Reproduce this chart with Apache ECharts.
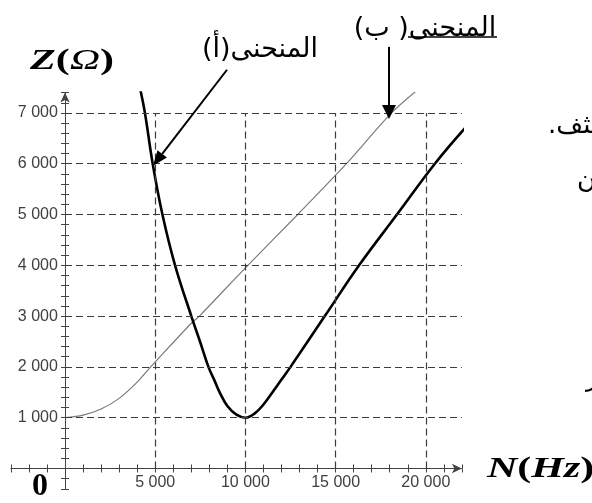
<!DOCTYPE html>
<html><head><meta charset="utf-8">
<script src="https://cdn.jsdelivr.net/npm/echarts@6/dist/echarts.min.js"></script>
<style>html,body{margin:0;padding:0;background:#fff}#c{width:592px;height:503px}</style>
</head><body><div id="c"></div>
<script>
// ---- data ----
const curveA_N = [4160, 4430, 4860, 5400, 6100, 7000, 7500, 7950, 8300, 8600, 9000, 9500, 10000, 10500, 11000, 11500, 12000, 12500, 14400, 16300, 18400, 20500, 22170];
const curveA_Z = [7480, 7000, 6000, 5000, 4000, 3000, 2480, 2000, 1720, 1480, 1230, 1060, 1000, 1080, 1260, 1500, 1750, 2000, 3000, 4000, 5000, 6000, 6700];
const curveB_N = [0, 1000, 2000, 3000, 4000, 4750, 6000, 7000, 7450, 10000, 12900, 15600, 18100, 19700];
const curveB_Z = [1000, 1050, 1170, 1380, 1700, 2000, 2480, 2860, 3000, 3950, 5000, 6000, 7000, 7500];
const xLabelTicks = [5000, 10000, 15000, 20000];
const yLabelTicks = [1000, 2000, 3000, 4000, 5000, 6000, 7000];
const labelA = '\u200Fالمنحنى(أ)\u200F';
const labelB = '\u200Fالمنحنى( ب)\u200F';
const arrowA = {from: [8980, 7850], to: [4880, 5960]};
const arrowB = {from: [17960, 8300], to: [17960, 6880]};

const fmt = v => { const s = String(v); return s.length > 3 ? s.slice(0, -3) + ' ' + s.slice(-3) : s; };
const zip = (a, b) => a.map((v, i) => [v, b[i]]);

const chart = echarts.init(document.getElementById('c'), null, {renderer: 'canvas'});
const axisCol = '#444';
const tickStyle = {length: 4, lineStyle: {color: axisCol, width: 1}};
const xCommon = {type: 'value', min: -3000, max: 22000, interval: 1000, splitLine: {show: false}};
const yCommon = {type: 'value', min: -400, max: 7400, interval: 200, splitLine: {show: false}};

const gridLines = yLabelTicks.map(z => [{coord: [0, z]}, {coord: [22000, z]}])
  .concat(xLabelTicks.map(n => [{coord: [n, 0]}, {coord: [n, 7000]}]));

const option = {
  animation: false,
  backgroundColor: '#fff',
  grid: {left: 10.9, right: 130.1, top: 92.6, bottom: 14.2, containLabel: false, outerBoundsMode: 'none'},
  xAxis: [
    Object.assign({}, xCommon, {
      position: 'bottom',
      axisLine: {show: true, onZero: true, onZeroAxisIndex: 0, symbol: ['none', 'arrow'], symbolSize: [7, 10], lineStyle: {color: axisCol, width: 1}},
      axisTick: tickStyle,
      axisLabel: {margin: -14, color: '#404040', fontFamily: 'Liberation Sans', fontSize: 16,
        formatter: v => xLabelTicks.includes(v) ? fmt(v) : ''}
    }),
    Object.assign({}, xCommon, {
      position: 'top',
      axisLine: {show: false, onZero: true, onZeroAxisIndex: 0},
      axisTick: tickStyle, axisLabel: {show: false}
    })
  ],
  yAxis: [
    Object.assign({}, yCommon, {
      position: 'left',
      axisLine: {show: true, onZero: true, onZeroAxisIndex: 0, symbol: ['none', 'arrow'], symbolSize: [7, 10], lineStyle: {color: axisCol, width: 1}},
      axisTick: tickStyle,
      axisLabel: {margin: -47, color: '#404040', fontFamily: 'Liberation Sans', fontSize: 16,
        formatter: v => yLabelTicks.includes(v) ? fmt(v) : ''}
    }),
    Object.assign({}, yCommon, {
      position: 'right',
      axisLine: {show: false, onZero: true, onZeroAxisIndex: 0},
      axisTick: tickStyle, axisLabel: {show: false}
    })
  ],
  series: [
    {
      type: 'line', data: [[0, 0]], showSymbol: false, lineStyle: {opacity: 0}, silent: true, z: 1,
      markLine: {silent: true, symbol: 'none', label: {show: false}, animation: false,
        lineStyle: {color: '#3c3c3c', width: 1.2, type: [7, 4]}, data: gridLines}
    },
    {type: 'line', data: zip(curveB_N, curveB_Z), smooth: 0.3, showSymbol: false, z: 3,
      lineStyle: {color: '#7a7a7a', width: 1.2}},
    {type: 'line', data: zip(curveA_N, curveA_Z), smooth: 0.4, showSymbol: false, z: 4,
      lineStyle: {color: '#000', width: 2.6}}
  ]
};
chart.setOption(option);

const px = d => chart.convertToPixel({xAxisIndex: 0, yAxisIndex: 0}, d);
function arrow(a, headLen, headHalf) {
  const p0 = px(a.from), p1 = px(a.to);
  const dx = p1[0] - p0[0], dy = p1[1] - p0[1], L = Math.hypot(dx, dy);
  const ux = dx / L, uy = dy / L;
  const bx = p1[0] - ux * headLen, by = p1[1] - uy * headLen;
  return [
    {type: 'line', shape: {x1: p0[0], y1: p0[1], x2: bx, y2: by}, style: {stroke: '#000', lineWidth: 2}, z: 10},
    {type: 'polygon', shape: {points: [p1, [bx - uy * headHalf, by + ux * headHalf], [bx + uy * headHalf, by - ux * headHalf]]},
      style: {fill: '#000'}, z: 10}
  ];
}
const serif = 'Liberation Serif';
const arab = 'DejaVu Sans';
const graphics = [].concat(
  arrow(arrowA, 15, 6),
  arrow(arrowB, 14, 7),
  [
    {type: 'text', x: 30, y: 61, scaleX: 1.4, style: {text: '{a|Z}{b|(}{c|Ω}{b|)}', rich: {
      a: {fontFamily: serif, fontWeight: 'bold', fontStyle: 'italic', fontSize: 30, fill: '#000'},
      b: {fontFamily: serif, fontWeight: 'bold', fontSize: 30, fill: '#000'},
      c: {fontFamily: serif, fontStyle: 'italic', fontSize: 30, fill: '#000'}},
      align: 'left', verticalAlign: 'middle'}},
    {type: 'text', x: 487, y: 469, scaleX: 1.4, style: {text: '{a|N}{b|(}{a|Hz}{b|)}', rich: {
      a: {fontFamily: serif, fontWeight: 'bold', fontStyle: 'italic', fontSize: 30, fill: '#000'},
      b: {fontFamily: serif, fontWeight: 'bold', fontSize: 30, fill: '#000'}},
      align: 'left', verticalAlign: 'middle'}},
    {type: 'text', x: 40, y: 487, style: {text: '0', fontFamily: serif, fontWeight: 'bold', fontSize: 32, fill: '#000', align: 'center', verticalAlign: 'middle'}},
    {type: 'text', x: 260, y: 50, style: {text: labelA, fontFamily: arab, fontSize: 27, fill: '#000', align: 'center', verticalAlign: 'middle'}},
    {type: 'text', x: 425, y: 29, style: {text: labelB, fontFamily: arab, fontSize: 27, fill: '#000', align: 'center', verticalAlign: 'middle'}},
    {type: 'line', shape: {x1: 408, y1: 37, x2: 497, y2: 37}, style: {stroke: '#000', lineWidth: 1.3}},
    {type: 'text', x: 548, y: 126, style: {text: 'المكثف.\u200F', fontFamily: arab, fontSize: 26, fill: '#000', align: 'left', verticalAlign: 'middle'}},
    {type: 'text', x: 577, y: 181, style: {text: 'ن', fontFamily: arab, fontSize: 26, fill: '#000', align: 'left', verticalAlign: 'middle'}},
    {type: 'text', x: 586, y: 380, style: {text: 'ر', fontFamily: arab, fontSize: 24, fill: '#000', align: 'left', verticalAlign: 'middle'}}
  ]
);
chart.setOption({graphic: graphics});
</script></body></html>
